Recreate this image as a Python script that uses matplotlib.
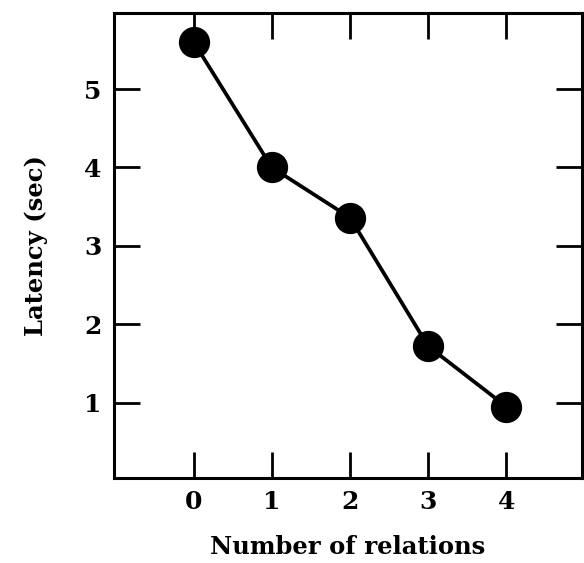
import matplotlib
matplotlib.use('Agg')
import matplotlib.pyplot as plt

# number of relations and mean latency
relations = [0, 1, 2, 3, 4]
latency = [5.6, 4.0, 3.36, 1.72, 0.95]
x_ticks = [0, 1, 2, 3, 4]
y_ticks = [1, 2, 3, 4, 5]

plt.rcParams['font.family'] = ['DejaVu Serif']
plt.rcParams['font.weight'] = 'bold'
plt.rcParams['axes.labelweight'] = 'bold'

fig = plt.figure(figsize=(5.84, 5.63), dpi=100)
ax = fig.add_axes([0.195, 0.151, 0.802, 0.826])

ax.plot(relations, latency, color='black', linewidth=2.7,
        marker='o', markersize=21.5, markerfacecolor='black', markeredgecolor='black')

ax.set_xlim(-1.02, 4.97)
ax.set_ylim(0.04, 5.97)
ax.set_xticks(x_ticks)
ax.set_yticks(y_ticks)

# ticks drawn inward on all four sides
ax.tick_params(direction='in', length=19, width=2.0, top=True, right=True,
               labeltop=False, labelright=False, labelsize=18, pad=9)
for side in ax.spines.values():
    side.set_linewidth(2.2)

ax.set_xlabel('Number of relations', fontsize=17.5, labelpad=15)
ax.set_ylabel('Latency (sec)', fontsize=17.5, labelpad=26)

fig.savefig('out.png', dpi=100)
